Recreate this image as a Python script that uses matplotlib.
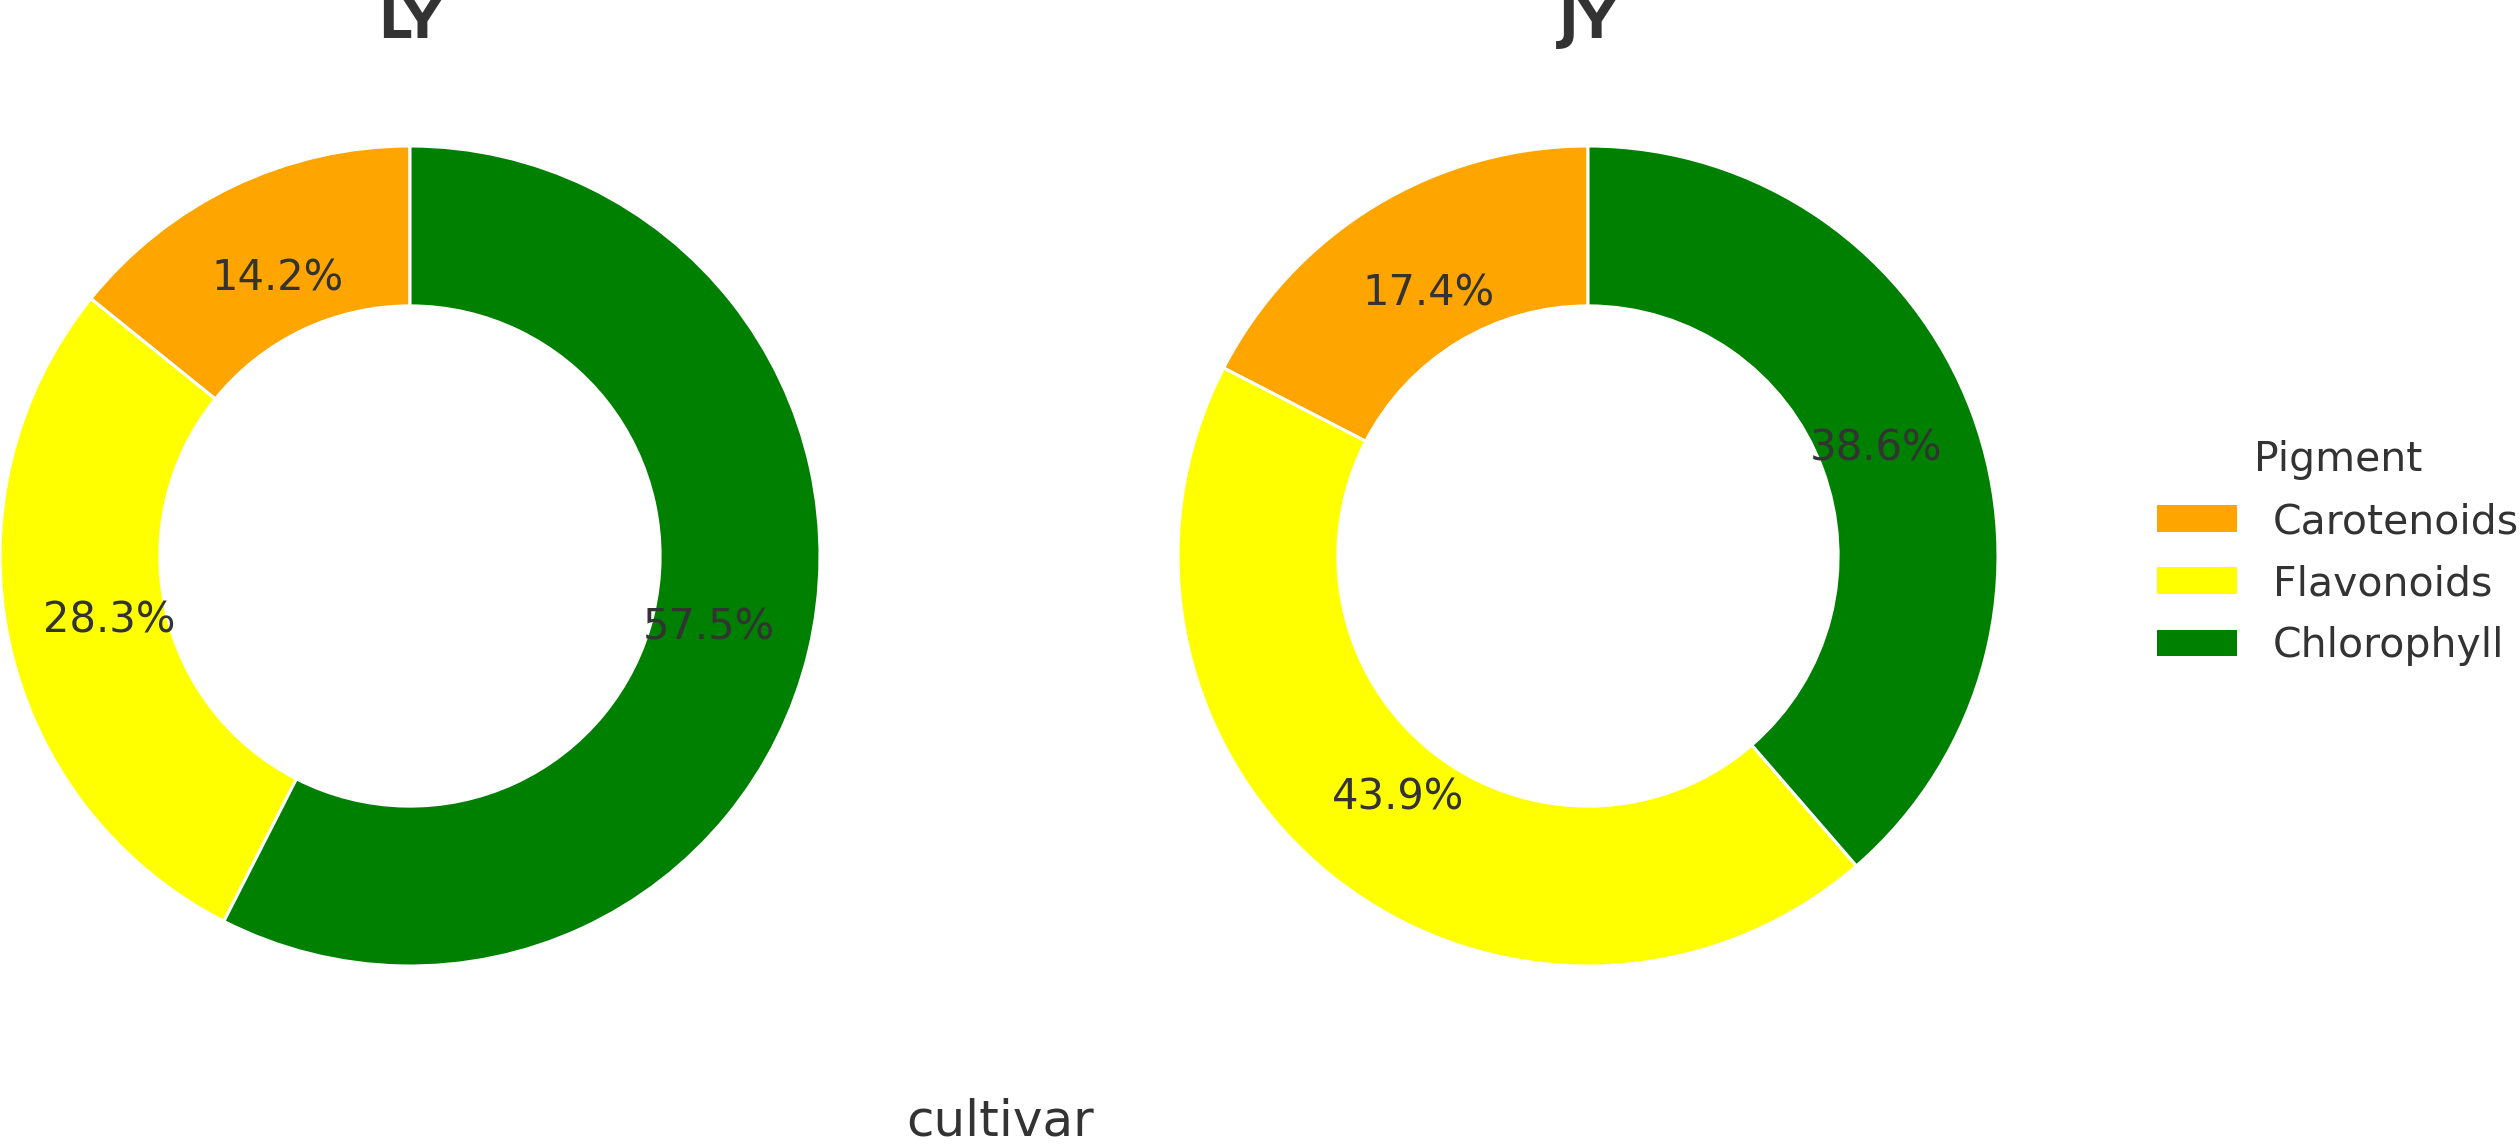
import matplotlib.pyplot as plt
from matplotlib.patches import Patch

# pigment share per cultivar (%)
cultivars = ['LY', 'JY']
pigments = ['Carotenoids', 'Flavonoids', 'Chlorophyll']
ly_share = [14.2, 28.3, 57.5]
jy_share = [17.4, 43.9, 38.6]
pigment_colors = ['#FFA500', '#FFFF00', '#008000']

TXT = '#333333'
W, H = 2520, 1147

fig = plt.figure(figsize=(W / 100, H / 100), dpi=100)

R = 410          # outer radius in px
lim = 1.1
side = 2 * lim * R
centers = [(410, 556), (1588, 556)]

for name, share, (cx, cy) in zip(cultivars, [ly_share, jy_share], centers):
    ax = fig.add_axes([(cx - side / 2) / W, (H - cy - side / 2) / H, side / W, side / H])
    wedges, _, autotexts = ax.pie(share, colors=pigment_colors, startangle=90,
                                  counterclock=True, autopct='%.1f%%', pctdistance=0.75,
                                  wedgeprops=dict(width=0.39, edgecolor='white', linewidth=2.2),
                                  textprops=dict(color=TXT, fontsize=30))
    ax.set_xlim(-lim, lim)
    ax.set_ylim(-lim, lim)
    ax.set_aspect('equal')
    ax.axis('off')
    fig.text(cx / W, (H - 38) / H, name, ha='center', va='baseline',
             fontsize=38, fontweight='bold', color=TXT)

fig.text(1000 / W, 1 / H, 'cultivar', ha='center', va='bottom', fontsize=36, color=TXT)

handles = [Patch(facecolor=c, edgecolor='none') for c in pigment_colors]
leg = fig.legend(handles, pigments, title='Pigment', loc='upper left',
                 bbox_to_anchor=(2157 / W, (H - 440) / H), frameon=False,
                 fontsize=29.5, title_fontsize=29.5, handlelength=1.95, handleheight=0.63,
                 handletextpad=0.88, labelspacing=0.54, borderpad=0, borderaxespad=0)
plt.setp(leg.get_texts(), color=TXT)
leg.get_title().set_color(TXT)

fig.savefig('out.png', dpi=100)
